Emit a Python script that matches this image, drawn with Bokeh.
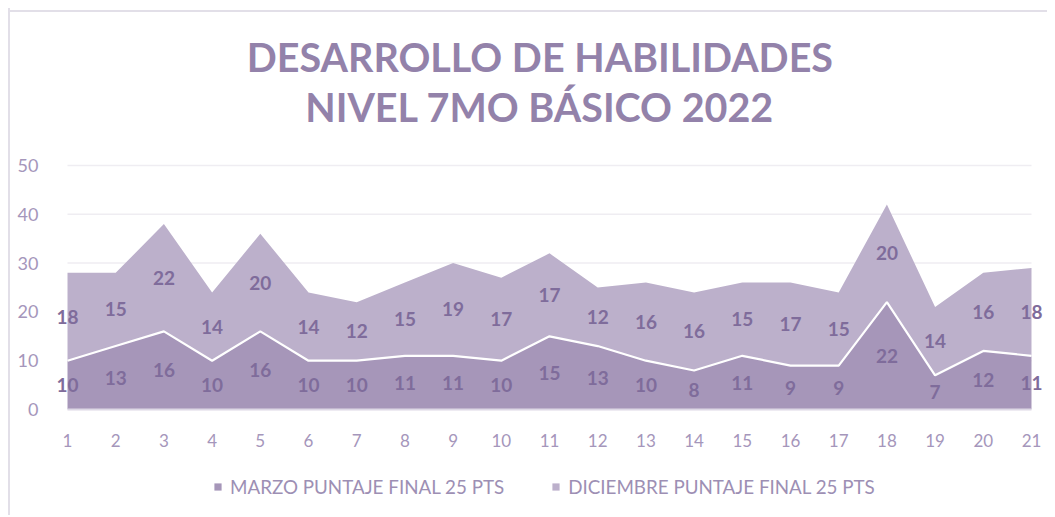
import numpy as np
from bokeh.plotting import figure
from bokeh.layouts import column
from bokeh.models import ColumnDataSource, LabelSet, Label, Legend, LegendItem, FixedTicker
from bokeh.core.properties import value
from bokeh.embed import file_html
from bokeh.resources import INLINE

students = list(range(1, 22))
marzo = [10, 13, 16, 10, 16, 10, 10, 11, 11, 10, 15, 13, 10, 8, 11, 9, 9, 22, 7, 12, 11]
diciembre = [18, 15, 22, 14, 20, 14, 12, 15, 19, 17, 17, 12, 16, 16, 15, 17, 15, 20, 14, 16, 18]
series_names = ["MARZO PUNTAJE FINAL 25 PTS", "DICIEMBRE PUNTAJE FINAL 25 PTS"]
title_lines = ["DESARROLLO DE HABILIDADES", "NIVEL 7MO BÁSICO 2022"]
y_ticks = [0, 10, 20, 30, 40, 50]

c_marzo = "#a696b9"
c_dic = "#bcb0cb"
c_label = "#7f6c9b"
c_axis = "#a596bb"
c_title = "#9382aa"
c_border = "#e2dfe8"

m = np.array(marzo, dtype=float)
d = np.array(diciembre, dtype=float)
src = ColumnDataSource(dict(
    x=students, marzo=m, diciembre=d, top=m + d,
    y_m=m / 2, y_d=m + d / 2,
    t_m=[str(v) for v in marzo], t_d=[str(v) for v in diciembre],
))

# layout: frame spans a little beyond the first/last student so edge labels are not clipped,
# and extends upward to hold the two-line title
px_per_x = 48.2
px_per_y = 4.88
x0 = students[0] - 22 / px_per_x
x1 = students[-1] + 15 / px_per_x
ytop = y_ticks[-1] + 157 / px_per_y

p = figure(width=1039, height=446, output_backend="svg", toolbar_location=None,
           x_range=(x0, x1), y_range=(0, ytop),
           min_border_left=37, min_border_right=1, min_border_top=0, min_border_bottom=45)
p.outline_line_color = None
p.background_fill_color = None
p.border_fill_color = None
p.xgrid.grid_line_color = None
p.ygrid.grid_line_color = None
p.styles = {"box-shadow": f"inset 2px 0 0 0 {c_border}, inset 0 2px 0 0 white, inset 0 4px 0 0 {c_border}"}

# gridlines spanning only the category extent
p.segment(x0=[students[0]] * (len(y_ticks) - 1), x1=[students[-1]] * (len(y_ticks) - 1),
          y0=y_ticks[1:], y1=y_ticks[1:], line_color="#efedf2", line_width=1.5)

r_m = p.varea(x="x", y1=0, y2="marzo", source=src, fill_color=c_marzo)
r_d = p.varea(x="x", y1="marzo", y2="top", source=src, fill_color=c_dic)
p.line(x="x", y="marzo", source=src, line_color="white", line_width=2.2)

for ycol, tcol in (("y_m", "t_m"), ("y_d", "t_d")):
    p.add_layout(LabelSet(x="x", y=ycol, text=tcol, source=src, text_align="center",
                          text_baseline="middle", text_font=value("Lato"),
                          text_font_style="bold", text_font_size="19px", text_color=c_label))

xc = (students[0] + students[-1]) / 2 - 0.2
for txt, dy in zip(title_lines, [353, 303]):
    p.add_layout(Label(x=xc, y=dy / px_per_y, text=txt, text_align="center",
                       text_baseline="middle", text_font="Lato", text_font_style="bold",
                       text_font_size="39.5px", text_color=c_title))

p.yaxis.ticker = FixedTicker(ticks=y_ticks)
p.xaxis.ticker = FixedTicker(ticks=students)
for ax in (p.xaxis, p.yaxis):
    ax.major_tick_line_color = None
    ax.minor_tick_line_color = None
    ax.major_label_text_font = "Lato"
    ax.major_label_text_color = c_axis
p.xaxis.major_label_text_font_size = "17px"
p.yaxis.major_label_text_font_size = "18px"
p.yaxis.axis_line_color = None
p.yaxis.major_label_standoff = 1
p.xaxis.axis_line_color = "#ddd8e5"
p.xaxis.axis_line_width = 2
p.xaxis.bounds = (students[0], students[-1])
p.xaxis.major_label_standoff = 18

# legend strip below the chart (its own renderers share the data but sit outside its view)
lg = figure(width=1039, height=61, output_backend="svg", toolbar_location=None,
            x_range=(-10, -5), y_range=(0, 1),
            x_axis_location=None, y_axis_location=None,
            min_border_left=0, min_border_right=0, min_border_top=0, min_border_bottom=0)
lg.outline_line_color = None
lg.background_fill_color = None
lg.border_fill_color = None
lg.xgrid.grid_line_color = None
lg.ygrid.grid_line_color = None
lg.styles = {"box-shadow": f"inset 2px 0 0 0 {c_border}"}
lr_m = lg.varea(x="x", y1=0, y2="marzo", source=src, fill_color=c_marzo)
lr_d = lg.varea(x="x", y1="marzo", y2="top", source=src, fill_color=c_dic)
legend = Legend(items=[LegendItem(label=series_names[0], renderers=[lr_m]),
                       LegendItem(label=series_names[1], renderers=[lr_d])],
                orientation="horizontal", location=(168, 17),
                glyph_width=9, glyph_height=9, label_standoff=8, spacing=47,
                label_height=20, label_text_baseline="middle",
                label_text_font="Lato", label_text_font_size="18.8px", label_text_color="#9d8fb4",
                border_line_color=None, background_fill_alpha=0, margin=0, padding=0)
lg.add_layout(legend, "center")

layout = column(p, lg, spacing=0, margin=(8, 0, 0, 8))
open("out.html", "w").write(file_html(layout, INLINE))
